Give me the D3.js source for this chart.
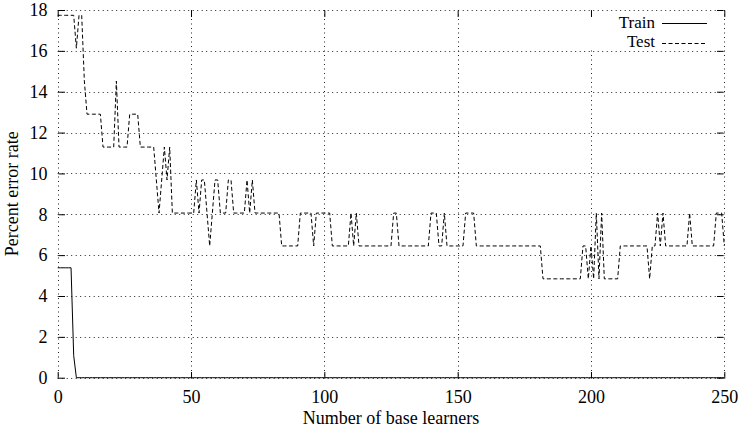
<!DOCTYPE html>
<html><head><meta charset="utf-8">
<script src="https://cdn.jsdelivr.net/npm/d3@7"></script>
<style>
body{margin:0;background:#fff}
svg{display:block}
text{font-family:"Liberation Serif","Times New Roman",serif;fill:#000}
</style>
</head><body>
<svg id="chart" width="741" height="432"></svg>
<script>
// Percent error rate per number of base learners (index = number of base learners, 0..250)
const trainError = [
 5.38,5.38,5.38,5.38,5.38,5.38,1.08,0,0,0,
 0,0,0,0,0,0,0,0,0,0, 0,0,0,0,0,0,0,0,0,0, 0,0,0,0,0,0,0,0,0,0, 0,0,0,0,0,0,0,0,0,0,
 0,0,0,0,0,0,0,0,0,0, 0,0,0,0,0,0,0,0,0,0, 0,0,0,0,0,0,0,0,0,0, 0,0,0,0,0,0,0,0,0,0,
 0,0,0,0,0,0,0,0,0,0, 0,0,0,0,0,0,0,0,0,0, 0,0,0,0,0,0,0,0,0,0, 0,0,0,0,0,0,0,0,0,0,
 0,0,0,0,0,0,0,0,0,0, 0,0,0,0,0,0,0,0,0,0, 0,0,0,0,0,0,0,0,0,0, 0,0,0,0,0,0,0,0,0,0,
 0,0,0,0,0,0,0,0,0,0, 0,0,0,0,0,0,0,0,0,0, 0,0,0,0,0,0,0,0,0,0, 0,0,0,0,0,0,0,0,0,0,
 0,0,0,0,0,0,0,0,0,0, 0,0,0,0,0,0,0,0,0,0, 0,0,0,0,0,0,0,0,0,0, 0,0,0,0,0,0,0,0,0,0,
 0
];
const testError = [
 17.74,17.74,17.74,17.74,17.74,17.74,17.74,16.13,17.74,17.74,
 14.52,12.90,12.90,12.90,12.90,12.90,12.90,11.29,11.29,11.29,
 11.29,11.29,14.52,11.29,11.29,11.29,11.29,12.90,12.90,12.90,
 12.90,11.29,11.29,11.29,11.29,11.29,11.29,9.68,8.06,9.68,
 11.29,9.68,11.29,8.06,8.06,8.06,8.06,8.06,8.06,8.06,
 8.06,8.06,9.68,8.06,9.68,9.68,8.06,6.45,8.06,9.68,
 9.68,8.06,8.06,8.06,9.68,9.68,8.06,8.06,8.06,8.06,
 8.06,9.68,8.06,9.68,8.06,8.06,8.06,8.06,8.06,8.06,
 8.06,8.06,8.06,8.06,6.45,6.45,6.45,6.45,6.45,6.45,
 6.45,8.06,8.06,8.06,8.06,8.06,6.45,8.06,8.06,8.06,
 8.06,8.06,8.06,6.45,6.45,6.45,6.45,6.45,6.45,6.45,
 8.06,6.45,8.06,6.45,6.45,6.45,6.45,6.45,6.45,6.45,
 6.45,6.45,6.45,6.45,6.45,6.45,8.06,8.06,6.45,6.45,
 6.45,6.45,6.45,6.45,6.45,6.45,6.45,6.45,6.45,6.45,
 8.06,8.06,8.06,6.45,6.45,8.06,6.45,6.45,6.45,6.45,
 6.45,6.45,6.45,8.06,8.06,8.06,8.06,6.45,6.45,6.45,
 6.45,6.45,6.45,6.45,6.45,6.45,6.45,6.45,6.45,6.45,
 6.45,6.45,6.45,6.45,6.45,6.45,6.45,6.45,6.45,6.45,
 6.45,6.45,4.84,4.84,4.84,4.84,4.84,4.84,4.84,4.84,
 4.84,4.84,4.84,4.84,4.84,4.84,4.84,6.45,6.45,4.84,
 6.45,4.84,8.06,4.84,8.06,4.84,4.84,4.84,4.84,4.84,
 4.84,6.45,6.45,6.45,6.45,6.45,6.45,6.45,6.45,6.45,
 6.45,6.45,4.84,6.45,6.45,8.06,6.45,8.06,6.45,6.45,
 6.45,6.45,6.45,6.45,6.45,6.45,6.45,8.06,6.45,6.45,
 6.45,6.45,6.45,6.45,6.45,6.45,6.45,8.06,8.06,8.06,
 6.45
];
const xTicks = [0, 50, 100, 150, 200, 250];
const yTicks = [0, 2, 4, 6, 8, 10, 12, 14, 16, 18];
const seriesNames = ["Train", "Test"];
const xLabel = "Number of base learners";
const yLabel = "Percent error rate";

const svg = d3.select("#chart");
const L = 57.7, R = 724.3, T = 10, B = 377.7;
const x = d3.scaleLinear().domain([0, 250]).range([L, R]);
const y = d3.scaleLinear().domain([0, 18]).range([B, T]);

// grid (dotted), including the plot edges
const grid = svg.append("g").attr("stroke", "#222").attr("stroke-width", 1)
  .attr("stroke-dasharray", "1,3.5").attr("fill", "none");
grid.selectAll("line.v").data(xTicks).join("line").attr("class", "v")
  .attr("x1", d => Math.round(x(d)) + 0.5).attr("x2", d => Math.round(x(d)) + 0.5)
  .attr("y1", T).attr("y2", B);
grid.selectAll("line.h").data(yTicks).join("line").attr("class", "h")
  .attr("y1", d => Math.round(y(d)) + 0.5).attr("y2", d => Math.round(y(d)) + 0.5)
  .attr("x1", L).attr("x2", R);

// key area is cleared
svg.append("rect").attr("x", 589).attr("y", Math.round(y(18)) + 2)
  .attr("width", R - 589 - 2).attr("height", Math.round(y(16)) - Math.round(y(18)) - 3)
  .attr("fill", "#fff");

// axes (ticks only, mirrored)
const tl = 6.5;
const axB = d3.axisBottom(x).tickValues(xTicks).tickSizeInner(-tl).tickSizeOuter(0).tickPadding(12);
const axT = d3.axisTop(x).tickValues(xTicks).tickSizeInner(-tl).tickSizeOuter(0).tickFormat("");
const axL = d3.axisLeft(y).tickValues(yTicks).tickSizeInner(-tl).tickSizeOuter(0).tickPadding(11);
const axR = d3.axisRight(y).tickValues(yTicks).tickSizeInner(-tl).tickSizeOuter(0).tickFormat("");
function style(g) {
  g.attr("font-family", null).attr("font-size", null);
  g.select(".domain").remove();
  g.selectAll("line").attr("stroke", "#000");
  g.selectAll("text").attr("font-size", 18).attr("fill", "#000");
}
svg.append("g").attr("transform", `translate(0,${Math.round(B)+0.5})`).call(axB).call(style);
svg.append("g").attr("transform", `translate(0,${Math.round(T)+0.5})`).call(axT).call(style);
svg.append("g").attr("transform", `translate(${Math.round(L)+0.5},0)`).call(axL).call(style);
svg.append("g").attr("transform", `translate(${Math.round(R)-0.5},0)`).call(axR).call(style);

// series
const line = d3.line().x((d, i) => x(i)).y(d => y(d));
svg.append("path").datum(trainError).attr("d", line)
  .attr("fill", "none").attr("stroke", "#000").attr("stroke-width", 1);
svg.append("path").datum(testError).attr("d", line)
  .attr("fill", "none").attr("stroke", "#000").attr("stroke-width", 1)
  .attr("stroke-dasharray", "4,2.5");

// legend
const leg = svg.append("g");
const legY = [23, 42.5];
seriesNames.forEach((name, i) => {
  leg.append("text").attr("x", 655).attr("y", legY[i] + 4.5).attr("text-anchor", "end")
    .attr("font-size", 17).text(name);
  leg.append("line").attr("x1", 662).attr("x2", 707).attr("y1", Math.round(legY[i]) + 0.5).attr("y2", Math.round(legY[i]) + 0.5)
    .attr("stroke", "#000").attr("stroke-width", 1)
    .attr("stroke-dasharray", i === 1 ? "4,2.5" : null);
});

// axis titles
svg.append("text").attr("x", (L + R) / 2).attr("y", 424).attr("text-anchor", "middle")
  .attr("font-size", 18).text(xLabel);
svg.append("text").attr("transform", `translate(18,${(T + B) / 2}) rotate(-90)`)
  .attr("text-anchor", "middle").attr("font-size", 18).text(yLabel);
</script>
</body></html>
